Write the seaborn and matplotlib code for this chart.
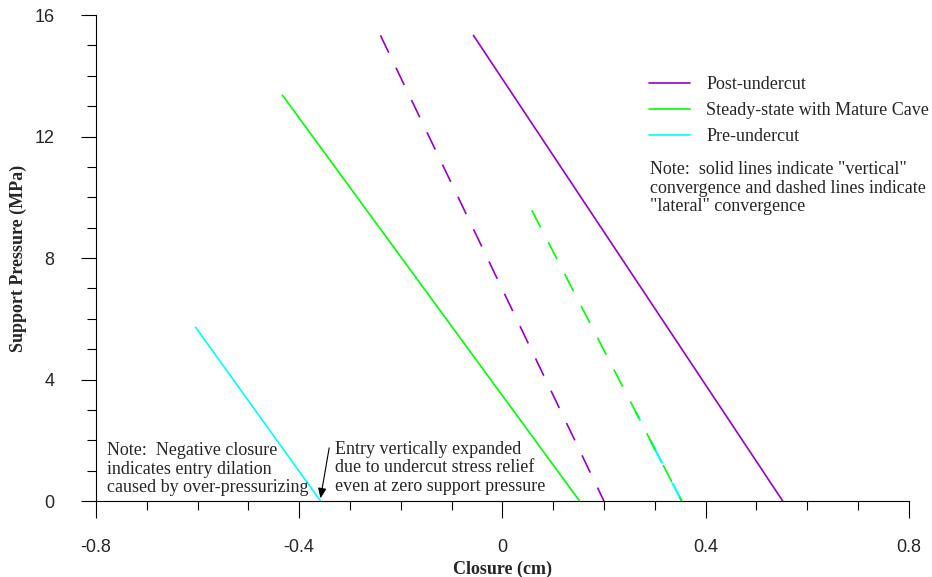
import matplotlib
matplotlib.use("Agg")
import matplotlib.pyplot as plt
import seaborn as sns
from matplotlib.ticker import MultipleLocator

# closure (cm) vs support pressure (MPa), end points
post_solid_x = [-0.057, 0.552]
post_solid_y = [15.33, 0.0]
post_dash_x = [-0.240, 0.200]
post_dash_y = [15.33, 0.0]

steady_solid_x = [-0.433, 0.152]
steady_solid_y = [13.36, 0.0]
steady_dash_x = [0.058, 0.353]
steady_dash_y = [9.57, 0.0]

pre_solid_x = [-0.604, -0.358]
pre_solid_y = [5.72, 0.0]
pre_dash_x = [0.262, 0.353]
pre_dash_y = [2.95, 0.0]

x_ticks = [-0.8, -0.4, 0, 0.4, 0.8]
x_ticklabels = ["-0.8", "-0.4", "0", "0.4", "0.8"]
y_ticks = [0, 4, 8, 12, 16]

purple = "#9900cc"
green = "#00ff00"
cyan = "#00ffff"

sns.set_style("ticks")
plt.rcParams["font.family"] = ["Liberation Serif", "DejaVu Serif"]

fig = plt.figure(figsize=(9.32, 5.77), dpi=100)
ax = fig.add_axes([0.103, 0.1317, 0.872, 0.8423])

dash = (0, (11.5, 10))
lw = 1.2
# cyan dashes phased so they sit under the green ones
sns.lineplot(x=pre_dash_x, y=pre_dash_y, color=cyan, lw=lw + 0.4, linestyle=(6.8, (11.5, 10)), sort=False, estimator=None, ax=ax, clip_on=False)
sns.lineplot(x=post_solid_x, y=post_solid_y, color=purple, lw=lw, sort=False, estimator=None, ax=ax, clip_on=False, label="Post-undercut")
sns.lineplot(x=post_dash_x, y=post_dash_y, color=purple, lw=lw, linestyle=dash, sort=False, estimator=None, ax=ax, clip_on=False)
sns.lineplot(x=steady_solid_x, y=steady_solid_y, color=green, lw=lw, sort=False, estimator=None, ax=ax, clip_on=False, label="Steady-state with Mature Cave")
sns.lineplot(x=steady_dash_x, y=steady_dash_y, color=green, lw=lw, linestyle=dash, sort=False, estimator=None, ax=ax, clip_on=False)
sns.lineplot(x=pre_solid_x, y=pre_solid_y, color=cyan, lw=lw, sort=False, estimator=None, ax=ax, clip_on=False, label="Pre-undercut")

ax.set_xlim(-0.8, 0.8)
ax.set_ylim(0, 16)
ax.set_xticks(x_ticks)
ax.set_xticklabels(x_ticklabels)
ax.set_yticks(y_ticks)
ax.xaxis.set_minor_locator(MultipleLocator(0.1))
ax.yaxis.set_minor_locator(MultipleLocator(1))
for s in ["top", "right"]:
    ax.spines[s].set_visible(False)
for s in ["left", "bottom"]:
    ax.spines[s].set_color("black")
    ax.spines[s].set_linewidth(0.8)

ax.tick_params(axis="x", which="major", length=12, width=0.8, pad=15, labelsize=13, direction="out", color="black")
ax.tick_params(axis="y", which="major", length=11, width=0.8, pad=19, labelsize=13, direction="out", color="black")
ax.tick_params(which="minor", length=6.5, width=0.8, direction="out", color="black")
for lab in ax.get_xticklabels() + ax.get_yticklabels():
    lab.set_family(["Liberation Sans", "DejaVu Sans"])

ax.set_xlabel("Closure (cm)", fontsize=13, fontweight="bold")
ax.set_ylabel("Support Pressure (MPa)", fontsize=13, fontweight="bold")
ax.xaxis.set_label_coords(0.5, -0.122)
ax.yaxis.set_label_coords(-0.085, 0.5)

ax.legend(loc="upper left", bbox_to_anchor=(0.680, 0.874), frameon=False,
          borderaxespad=0, borderpad=0, handlelength=2.3, handletextpad=0.9,
          labelspacing=0.5, fontsize=13)

ax.text(0.290, 10.3, 'Note:  solid lines indicate "vertical"\nconvergence and dashed lines indicate\n"lateral" convergence',
        fontsize=13, va="center", ha="left", linespacing=1.13)
ax.text(-0.778, 1.05, "Note:  Negative closure\nindicates entry dilation\ncaused by over-pressurizing",
        fontsize=13, va="center", ha="left", linespacing=1.13)
ax.text(-0.330, 1.09, "Entry vertically expanded\ndue to undercut stress relief\neven at zero support pressure",
        fontsize=13, va="center", ha="left", linespacing=1.13)
ax.annotate("", xy=(-0.359, 0.0), xytext=(-0.340, 1.84),
            arrowprops=dict(arrowstyle="-|>,head_length=0.6,head_width=0.25", color="black", lw=0.8),
            annotation_clip=False)

fig.savefig("out.png", dpi=100)
